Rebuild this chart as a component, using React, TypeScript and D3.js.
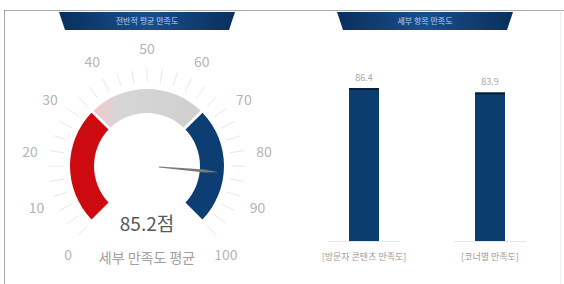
import * as d3 from 'd3'

// gauge data
const gaugeValue = 85.2
const gaugeTicks = [0, 10, 20, 30, 40, 50, 60, 70, 80, 90, 100]
const gaugeBands = [
  { from: 0, to: 33.3, color: '#cc0a10' },
  { from: 33.3, to: 66.7, color: '#d2d2d2' },
  { from: 66.7, to: 100, color: '#0d3e73' },
]
const gaugeUnit = '점'
const gaugeCaption = '세부 만족도 평균'

// bar data
const barCategories = ['[방문자 콘텐츠 만족도]', '[코너별 만족도]']
const barValues = [86.4, 83.9]

const headerTitles = ['전반적 평균 만족도', '세부 항목 만족도']

const font = '"Noto Sans CJK KR", "Noto Sans", sans-serif'

const Header = ({ x0, x1, title }: { x0: number; x1: number; title: string }) => {
  const top = 12
  const bottom = 30
  const pts = [
    [x0, top],
    [x1, top],
    [x1 - 6, bottom],
    [x0 + 6, bottom],
  ]
    .map((p) => p.join(','))
    .join(' ')
  return (
    <g>
      <polygon points={pts} fill="url(#hdr)" />
      <text
        x={(x0 + x1) / 2}
        y={24}
        textAnchor="middle"
        fontSize={8}
        fontWeight={700}
        fill="#86a8d2"
        fontFamily={font}
      >
        {title}
      </text>
    </g>
  )
}

const Gauge = () => {
  const cx = 147
  const cy = 166
  const angle = d3
    .scaleLinear()
    .domain([0, 100])
    .range([(-135 * Math.PI) / 180, (135 * Math.PI) / 180])
  // labels sit on a slightly wider sweep than the arc
  const labelAngle = d3
    .scaleLinear()
    .domain([0, 100])
    .range([(-138 * Math.PI) / 180, (138 * Math.PI) / 180])
  const arc = d3.arc<{ from: number; to: number }>()
    .innerRadius(53)
    .outerRadius(77)
    .startAngle((d) => angle(d.from))
    .endAngle((d) => angle(d.to))
    .padAngle(0.03)

  const minor = d3.range(0, 100.01, 10 / 3)
  const labelR = 118

  const a = angle(gaugeValue)
  const dir = [Math.sin(a), -Math.cos(a)]
  const perp = [-dir[1], dir[0]]
  const n0 = 12
  const n1 = 72
  const needle = [
    [cx + dir[0] * n0 + perp[0] * 0.5, cy + dir[1] * n0 + perp[1] * 0.5],
    [cx + dir[0] * (n1 - 14) + perp[0] * 1.5, cy + dir[1] * (n1 - 14) + perp[1] * 1.5],
    [cx + dir[0] * n1, cy + dir[1] * n1],
    [cx + dir[0] * (n1 - 14) - perp[0] * 1.5, cy + dir[1] * (n1 - 14) - perp[1] * 1.5],
    [cx + dir[0] * n0 - perp[0] * 0.5, cy + dir[1] * n0 - perp[1] * 0.5],
  ]
    .map((p) => p.join(','))
    .join(' ')

  return (
    <g>
      {minor.map((v, i) => {
        const t = angle(v)
        return (
          <line
            key={i}
            x1={cx + Math.sin(t) * 84}
            y1={cy - Math.cos(t) * 84}
            x2={cx + Math.sin(t) * 98}
            y2={cy - Math.cos(t) * 98}
            stroke="#e6e8ec"
            strokeWidth={1}
          />
        )
      })}
      {gaugeBands.map((b, i) => (
        <path
          key={i}
          d={arc(b) || ''}
          transform={`translate(${cx},${cy})`}
          fill={i === 1 ? 'url(#greyband)' : b.color}
        />
      ))}
      {gaugeTicks.map((v) => {
        const t = labelAngle(v)
        return (
          <text
            key={v}
            x={cx + Math.sin(t) * labelR}
            y={cy - Math.cos(t) * labelR}
            textAnchor="middle"
            dominantBaseline="central"
            fontSize={14}
            fill="#b4b4b4"
            fontFamily={font}
          >
            {v}
          </text>
        )
      })}
      <polygon points={needle} fill="#7a7a7a" />
      <text
        x={cx}
        y={231}
        textAnchor="middle"
        fontSize={19}
        fill="#55595c"
        fontFamily={font}
      >
        {gaugeValue.toFixed(1)}
        {gaugeUnit}
      </text>
      <text
        x={cx}
        y={263}
        textAnchor="middle"
        fontSize={14}
        fill="#a0a0a0"
        fontFamily={font}
      >
        {gaugeCaption}
      </text>
    </g>
  )
}

const Bars = () => {
  const x = d3.scalePoint<string>().domain(barCategories).range([301, 553]).padding(0.5)
  const y = d3.scaleLinear().domain([0, 100]).range([241, 64])
  const bw = 30
  return (
    <g>
      {barCategories.map((c, i) => {
        const cxp = x(c) || 0
        return (
          <g key={c}>
            <line
              x1={cxp - 36}
              x2={cxp + 36}
              y1={y(0) + 0.5}
              y2={y(0) + 0.5}
              stroke="#e6e6e6"
            />
            <rect
              x={cxp - bw / 2}
              y={y(barValues[i])}
              width={bw}
              height={y(0) - y(barValues[i])}
              fill="#0c3d6f"
            />
            <rect
              x={cxp - bw / 2}
              y={y(barValues[i])}
              width={bw}
              height={2}
              fill="#0a1e33"
            />
            <text
              x={cxp}
              y={y(barValues[i]) - 7}
              textAnchor="middle"
              fontSize={9}
              fill="#a8a8a8"
              fontFamily={font}
            >
              {barValues[i]}
            </text>
            <text
              x={cxp}
              y={260}
              textAnchor="middle"
              fontSize={9}
              fill="#9a9a9a"
              fontFamily={font}
            >
              {c}
            </text>
          </g>
        )
      })}
    </g>
  )
}

export default function App() {
  return (
    <svg
      width={564}
      height={284}
      style={{ position: 'absolute', left: 0, top: 0, background: '#fff' }}
    >
      <defs>
        <linearGradient id="hdr" x1="0" x2="1" y1="0" y2="0">
          <stop offset="0" stopColor="#0a2f5c" />
          <stop offset="0.5" stopColor="#174f8e" />
          <stop offset="1" stopColor="#0a2f5c" />
        </linearGradient>
        <linearGradient id="greyband" x1="0" x2="1" y1="0" y2="0">
          <stop offset="0" stopColor="#f3c9cc" />
          <stop offset="0.25" stopColor="#d6d6d6" />
          <stop offset="1" stopColor="#cfcfcf" />
        </linearGradient>
      </defs>
      <line x1={4.5} x2={564} y1={10.5} y2={10.5} stroke="#555" strokeDasharray="1,1" />
      <line x1={4.5} x2={4.5} y1={10.5} y2={284} stroke="#555" strokeDasharray="1,1" />
      <line x1={560.5} x2={560.5} y1={10.5} y2={284} stroke="#eee" />
      <Header x0={59} x1={235} title={headerTitles[0]} />
      <Header x0={337} x1={513} title={headerTitles[1]} />
      <Gauge />
      <Bars />
    </svg>
  )
}
